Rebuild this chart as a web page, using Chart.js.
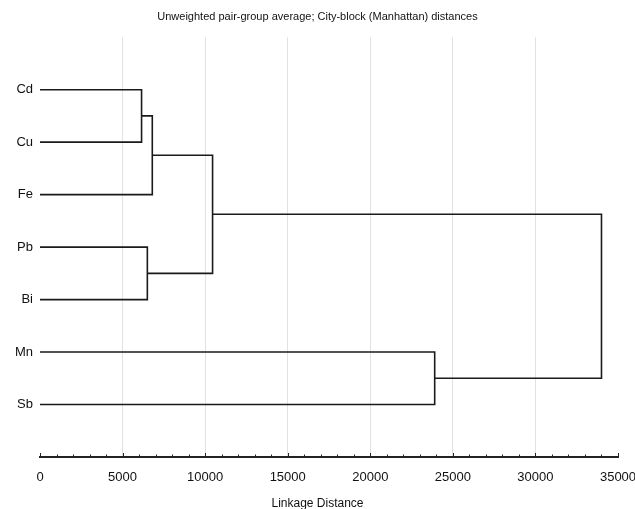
<!DOCTYPE html>
<html>
<head>
<meta charset="utf-8">
<script src="https://cdn.jsdelivr.net/npm/chart.js@4/dist/chart.umd.min.js"></script>
<style>
html,body{margin:0;padding:0;background:#fff;}
#wrap{width:635px;height:509px;}
</style>
</head>
<body>
<div id="wrap"><canvas id="c" width="635" height="509"></canvas></div>
<script>
// Leaves (top to bottom)
const leaves = ['Cd', 'Cu', 'Fe', 'Pb', 'Bi', 'Mn', 'Sb'];
// Linkage: clusters 0..6 are leaves, each merge creates cluster 7, 8, ...
const mergeLeft   = [0, 7, 3, 8, 5, 10];
const mergeRight  = [1, 2, 4, 9, 6, 11];
const mergeHeight = [6150, 6800, 6500, 10450, 23900, 34000];
const xTickStep = 5000;
const xMinorStep = 1000;
const xMax = 35000;

// build node positions
const nodeX = leaves.map(() => 0);
const nodeY = leaves.map((_, i) => i);
const datasets = [];
mergeHeight.forEach((h, k) => {
  const a = mergeLeft[k], b = mergeRight[k];
  datasets.push({
    data: [
      {x: nodeX[a], y: nodeY[a]},
      {x: h, y: nodeY[a]},
      {x: h, y: nodeY[b]},
      {x: nodeX[b], y: nodeY[b]}
    ],
    showLine: true,
    borderColor: '#1a1a1a',
    borderWidth: 1.6,
    pointRadius: 0,
    tension: 0,
    fill: false
  });
  nodeX.push(h);
  nodeY.push((nodeY[a] + nodeY[b]) / 2);
});

// draw small tick marks pointing up from the x axis (inside the plot)
const innerTicks = {
  id: 'innerTicks',
  afterDatasetsDraw(chart) {
    const s = chart.scales.x;
    const ctx = chart.ctx;
    const yAxis = chart.chartArea.bottom;
    ctx.save();
    ctx.strokeStyle = '#222';
    ctx.lineWidth = 1;
    s.ticks.forEach(t => {
      const px = Math.round(s.getPixelForValue(t.value)) + 0.5;
      const len = (t.value % xTickStep === 0) ? 4 : 2.5;
      ctx.beginPath();
      ctx.moveTo(px, yAxis);
      ctx.lineTo(px, yAxis - len);
      ctx.stroke();
    });
    ctx.restore();
  }
};

const font = "'Liberation Sans', Arial, sans-serif";
new Chart(document.getElementById('c'), {
  type: 'scatter',
  data: { datasets },
  plugins: [innerTicks],
  options: {
    responsive: false,
    animation: false,
    layout: { padding: { left: 0, right: 0, top: 0, bottom: -2 } },
    plugins: {
      legend: { display: false },
      tooltip: { enabled: false },
      title: {
        display: true,
        text: 'Unweighted pair-group average; City-block (Manhattan) distances',
        color: '#111',
        font: { family: font, size: 11, weight: 'normal' },
        padding: { top: 10, bottom: 14 }
      },
      subtitle: {
        display: true,
        position: 'bottom',
        text: 'Linkage Distance',
        color: '#111',
        font: { family: font, size: 12, weight: 'normal' },
        padding: { top: -2, bottom: 0 }
      }
    },
    scales: {
      x: {
        type: 'linear',
        min: 0, max: xMax,
        border: { display: true, color: '#222', width: 2 },
        afterFit: (scale) => { scale.paddingRight = 17; },
        grid: {
          display: true,
          drawOnChartArea: true,
          color: (ctx) => {
            const v = ctx.tick ? ctx.tick.value : null;
            return (v !== null && v % xTickStep === 0 && v > 0 && v < xMax) ? '#e2e2e2' : 'rgba(0,0,0,0)';
          },
          lineWidth: 1,
          drawTicks: false
        },
        ticks: {
          stepSize: xMinorStep,
          autoSkip: false,
          maxRotation: 0,
          color: '#111',
          padding: 13,
          font: { family: font, size: 13 },
          callback: (v) => (v % xTickStep === 0 ? String(v) : '')
        }
      },
      y: {
        type: 'linear',
        min: -1, max: leaves.length,
        reverse: true,
        border: { display: false },
        grid: { display: false, drawTicks: false, tickLength: 0 },
        afterFit: (scale) => { scale.width = 40; },
        ticks: {
          stepSize: 1,
          autoSkip: false,
          color: '#111',
          padding: 7,
          font: { family: font, size: 13 },
          callback: (v) => (v >= 0 && v < leaves.length ? leaves[v] : '')
        }
      }
    }
  }
});
</script>
</body>
</html>
